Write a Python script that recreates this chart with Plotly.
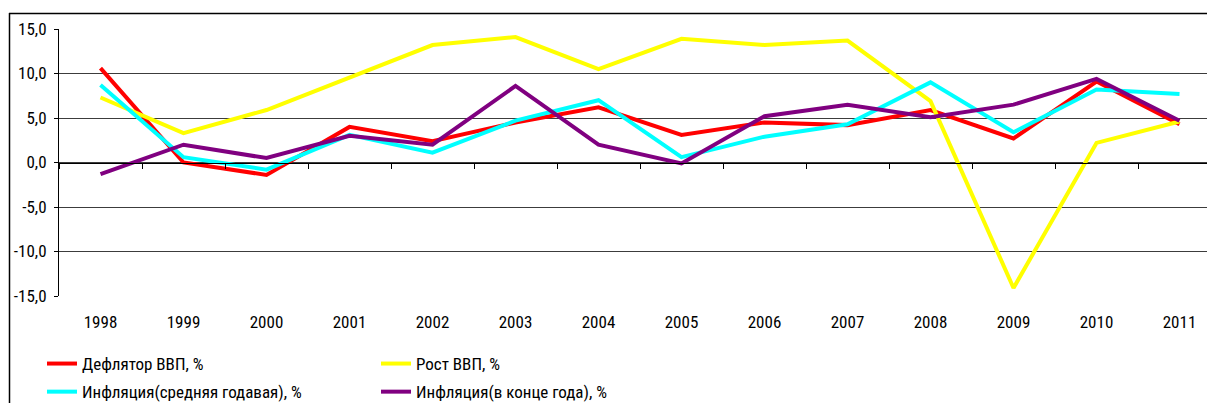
import plotly.graph_objects as go

# Category axis and series (percent)
years = [str(y) for y in range(1998, 2012)]
deflator = [10.6, 0.0, -1.4, 4.0, 2.4, 4.5, 6.2, 3.1, 4.5, 4.2, 5.9, 2.7, 9.1, 4.3]
gdp_growth = [7.3, 3.3, 5.9, 9.6, 13.2, 14.1, 10.5, 13.9, 13.2, 13.7, 6.9, -14.1, 2.2, 4.6]
cpi_avg = [8.7, 0.6, -0.8, 3.1, 1.1, 4.7, 7.0, 0.6, 2.9, 4.3, 9.0, 3.4, 8.2, 7.7]
cpi_eoy = [-1.3, 2.0, 0.5, 3.0, 2.0, 8.6, 2.0, -0.1, 5.2, 6.5, 5.1, 6.5, 9.4, 4.7]

y_tickvals = [15, 10, 5, 0, -5, -10, -15]
y_ticktext = ["15,0", "10,0", "5,0", "0,0", "-5,0", "-10,0", "-15,0"]

series = [
    ("Дефлятор ВВП, %", deflator, "#FF0000", "legend"),
    ("Рост ВВП, %", gdp_growth, "#FFFF00", "legend2"),
    ("Инфляция(средняя годавая), %", cpi_avg, "#00FFFF", "legend"),
    ("Инфляция(в конце года), %", cpi_eoy, "#800080", "legend2"),
]

FONT = "Roboto Condensed, Liberation Sans, Arial, sans-serif"
FS = 17
W, H = 1207, 403
L, T = 59, 29            # left / top margins in px
PLOT_BOTTOM = 296        # px row of the -15 gridline
paper_w = W - L
paper_h = H - T
x_range = [-0.5, -0.5 + paper_w / 83.0]


def px_x(px):
    return (px - L) / paper_w


def px_y(py):
    return (H - py) / paper_h


fig = go.Figure()
for name, vals, color, leg in series:
    fig.add_trace(go.Scatter(
        x=years, y=vals, name=name, mode="lines",
        line=dict(color=color, width=4),
        legend=leg, legendgroup=name,
    ))

# helper trace so the zero-line axis gets drawn
fig.add_trace(go.Scatter(x=years, y=[None] * len(years), xaxis="x2",
                         showlegend=False, hoverinfo="skip"))

# two side-by-side legends form the 2x2 key under the chart
legend_style = dict(
    xanchor="left", yanchor="bottom", y=px_y(410), orientation="v",
    traceorder="grouped", tracegroupgap=3,
    bgcolor="rgba(0,0,0,0)", font=dict(family=FONT, size=FS, color="black"),
    itemwidth=30,
)

fig.update_layout(
    template="none",
    width=W, height=H,
    margin=dict(l=L, r=0, t=T, b=0, pad=0, autoexpand=False),
    paper_bgcolor="white", plot_bgcolor="white",
    font=dict(family=FONT, size=FS, color="black"),
    xaxis=dict(
        type="category", categoryorder="array", categoryarray=years,
        range=x_range, showgrid=False, zeroline=False, showline=False,
        ticks="", ticklabelstandoff=14, automargin=False,
        tickfont=dict(family=FONT, size=FS, color="black"),
    ),
    xaxis2=dict(
        type="category", categoryorder="array", categoryarray=years,
        range=x_range, overlaying="x", anchor="free", position=px_y(162.5),
        side="bottom", showgrid=False, zeroline=False, automargin=False,
        showline=True, linecolor="black", linewidth=1,
        ticks="outside", ticklen=5, tickcolor="black", tickwidth=1,
        tickson="boundaries", showticklabels=False,
    ),
    yaxis=dict(
        domain=[px_y(PLOT_BOTTOM), 1],
        range=[-15, 15], tickvals=y_tickvals, ticktext=y_ticktext,
        showgrid=True, gridcolor="#3c3c3c", gridwidth=1, automargin=False,
        zeroline=False, showline=True, linecolor="black", linewidth=1,
        ticks="outside", ticklen=4, tickcolor="black",
        ticklabelstandoff=4,
        tickfont=dict(family=FONT, size=FS, color="black"),
    ),
    legend=dict(x=px_x(42), **legend_style),
    legend2=dict(x=px_x(376), **legend_style),
    shapes=[
        dict(type="line", xref="paper", yref="paper",
             x0=px_x(9), x1=px_x(W + 5), y0=px_y(13.5), y1=px_y(13.5),
             line=dict(color="black", width=1.5)),
        dict(type="line", xref="paper", yref="paper",
             x0=px_x(9.5), x1=px_x(9.5), y0=px_y(13), y1=px_y(H + 5),
             line=dict(color="black", width=1.5)),
    ],
    showlegend=True,
)

fig.write_html("out.html")
